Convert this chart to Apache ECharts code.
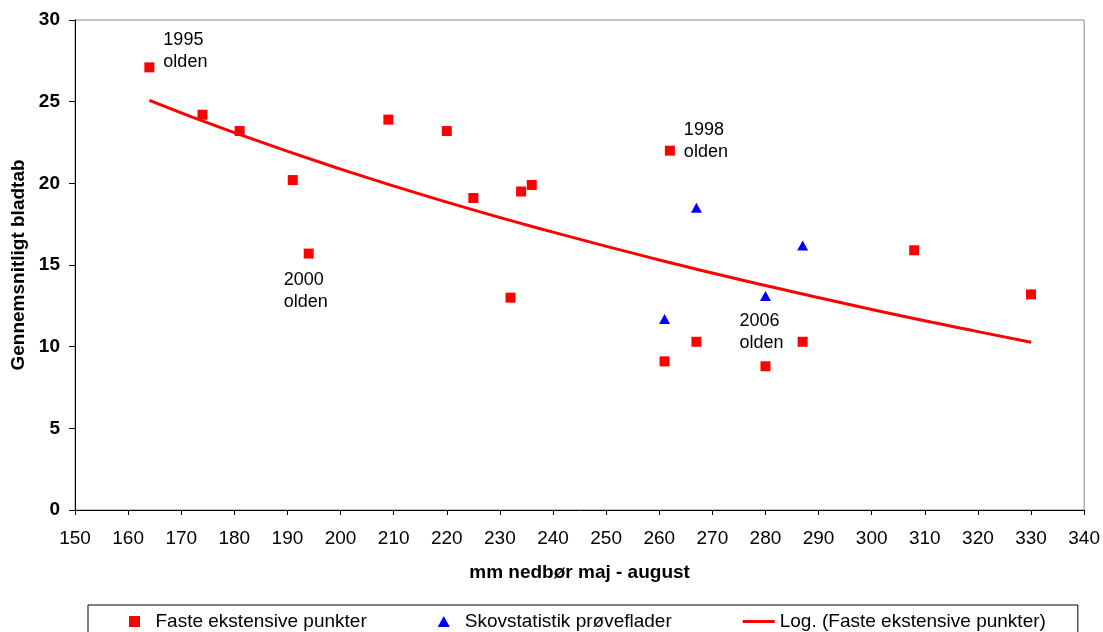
<!DOCTYPE html>
<html>
<head>
<meta charset="utf-8">
<script src="https://cdn.jsdelivr.net/npm/echarts@6/dist/echarts.min.js"></script>
<style>html,body{margin:0;padding:0;background:#fff}#c{width:1103px;height:632px}</style>
</head>
<body>
<div id="c"></div>
<script>
// Faste ekstensive punkter (mm rain May-Aug, avg. leaf loss)
const fasteX = [164, 174, 181, 191, 194, 209, 220, 225, 232, 234, 236, 262, 261, 267, 280, 287, 308, 330];
const fasteY = [27.1, 24.2, 23.2, 20.2, 15.7, 23.9, 23.2, 19.1, 13.0, 19.5, 19.9, 22.0, 9.1, 10.3, 8.8, 10.3, 15.9, 13.2];
// Skovstatistik prøveflader
const skovX = [261, 267, 280, 287];
const skovY = [11.7, 18.5, 13.1, 16.2];
// Log trend line
const trendX = [164, 180, 200, 220, 240, 260, 280, 300, 320, 330];
const trendY = [25.08, 23.1, 20.87, 18.85, 17.01, 15.31, 13.74, 12.28, 10.92, 10.27];
// Annotations
const annoX = [164, 262, 194, 280];
const annoY = [27.1, 22.0, 15.7, 8.8];
const annoText = ['1995\nolden', '1998\nolden', '2000\nolden', '2006\nolden'];
const annoOffset = [[14, -16.5], [14, -10], [-25, 37.5], [-26, -34.5]];

const xTicks = {min: 150, max: 340, interval: 10};
const yTicks = {min: 0, max: 30, interval: 5};

const names = ['Faste ekstensive punkter', 'Skovstatistik prøveflader', 'Log. (Faste ekstensive punkter)'];
const FONT = 'Arial, "Liberation Sans", sans-serif';

const fasteData = fasteX.map((x, i) => {
  const item = {value: [x, fasteY[i]]};
  const k = annoX.findIndex((ax, j) => ax === x && annoY[j] === fasteY[i]);
  if (k >= 0) {
    item.label = {
      show: true, formatter: annoText[k], position: 'inside',
      align: 'left', verticalAlign: 'middle', offset: annoOffset[k],
      color: '#000', fontSize: 18, lineHeight: 22, fontFamily: FONT
    };
  }
  return item;
});

const chart = echarts.init(document.getElementById('c'), null, {renderer: 'canvas'});
chart.setOption({
  animation: false,
  backgroundColor: '#fff',
  textStyle: {fontFamily: FONT},
  grid: {left: 75, right: 18, top: 20, bottom: 122, show: true, borderColor: '#888', borderWidth: 1, containLabel: false},
  xAxis: {
    type: 'value', min: xTicks.min, max: xTicks.max, interval: xTicks.interval,
    name: 'mm nedbør maj - august', nameLocation: 'middle', nameGap: 53,
    nameTextStyle: {fontSize: 19, fontWeight: 'bold', color: '#000', fontFamily: FONT},
    axisLine: {show: true, lineStyle: {color: '#000', width: 1}},
    axisTick: {show: true, inside: false, length: 5, lineStyle: {color: '#000'}},
    axisLabel: {fontSize: 19, color: '#000', margin: 19, fontFamily: FONT},
    splitLine: {show: false}
  },
  yAxis: {
    type: 'value', min: yTicks.min, max: yTicks.max, interval: yTicks.interval,
    name: 'Gennemsnitligt bladtab', nameLocation: 'middle', nameGap: 47,
    nameTextStyle: {fontSize: 19, fontWeight: 'bold', color: '#000', fontFamily: FONT},
    axisLine: {show: true, lineStyle: {color: '#000', width: 1}},
    axisTick: {show: true, inside: false, length: 6, lineStyle: {color: '#000'}},
    axisLabel: {fontSize: 19, fontWeight: 'bold', color: '#000', margin: 15, fontFamily: FONT},
    splitLine: {show: false}
  },
  legend: {
    left: 88, top: 605, orient: 'horizontal',
    padding: [7, 32, 12, 41], itemGap: 71, itemWidth: 32, itemHeight: 11,
    borderColor: '#000', borderWidth: 1, symbolKeepAspect: true,
    textStyle: {fontSize: 19, color: '#000', fontFamily: FONT},
    data: [
      {name: names[0], icon: 'path://M0,0H11V11H0Z'},
      {name: names[1], icon: 'path://M5.5,0L11,10H0Z'},
      {name: names[2], icon: 'path://M0,0H32V3H0Z'}
    ]
  },
  series: [
    {
      name: names[2], type: 'line', data: trendX.map((x, i) => [x, trendY[i]]),
      smooth: true, showSymbol: false, symbol: 'none',
      lineStyle: {color: '#FF0000', width: 3}, itemStyle: {color: '#FF0000', opacity: 1}, z: 2
    },
    {
      name: names[0], type: 'scatter', data: fasteData,
      symbol: 'rect', symbolSize: 10, itemStyle: {color: '#FF0000', opacity: 1}, z: 3
    },
    {
      name: names[1], type: 'scatter', data: skovX.map((x, i) => [x, skovY[i]]),
      symbol: 'triangle', symbolSize: [11, 10], itemStyle: {color: '#0000FF', opacity: 1}, z: 3
    }
  ]
});
</script>
</body>
</html>
